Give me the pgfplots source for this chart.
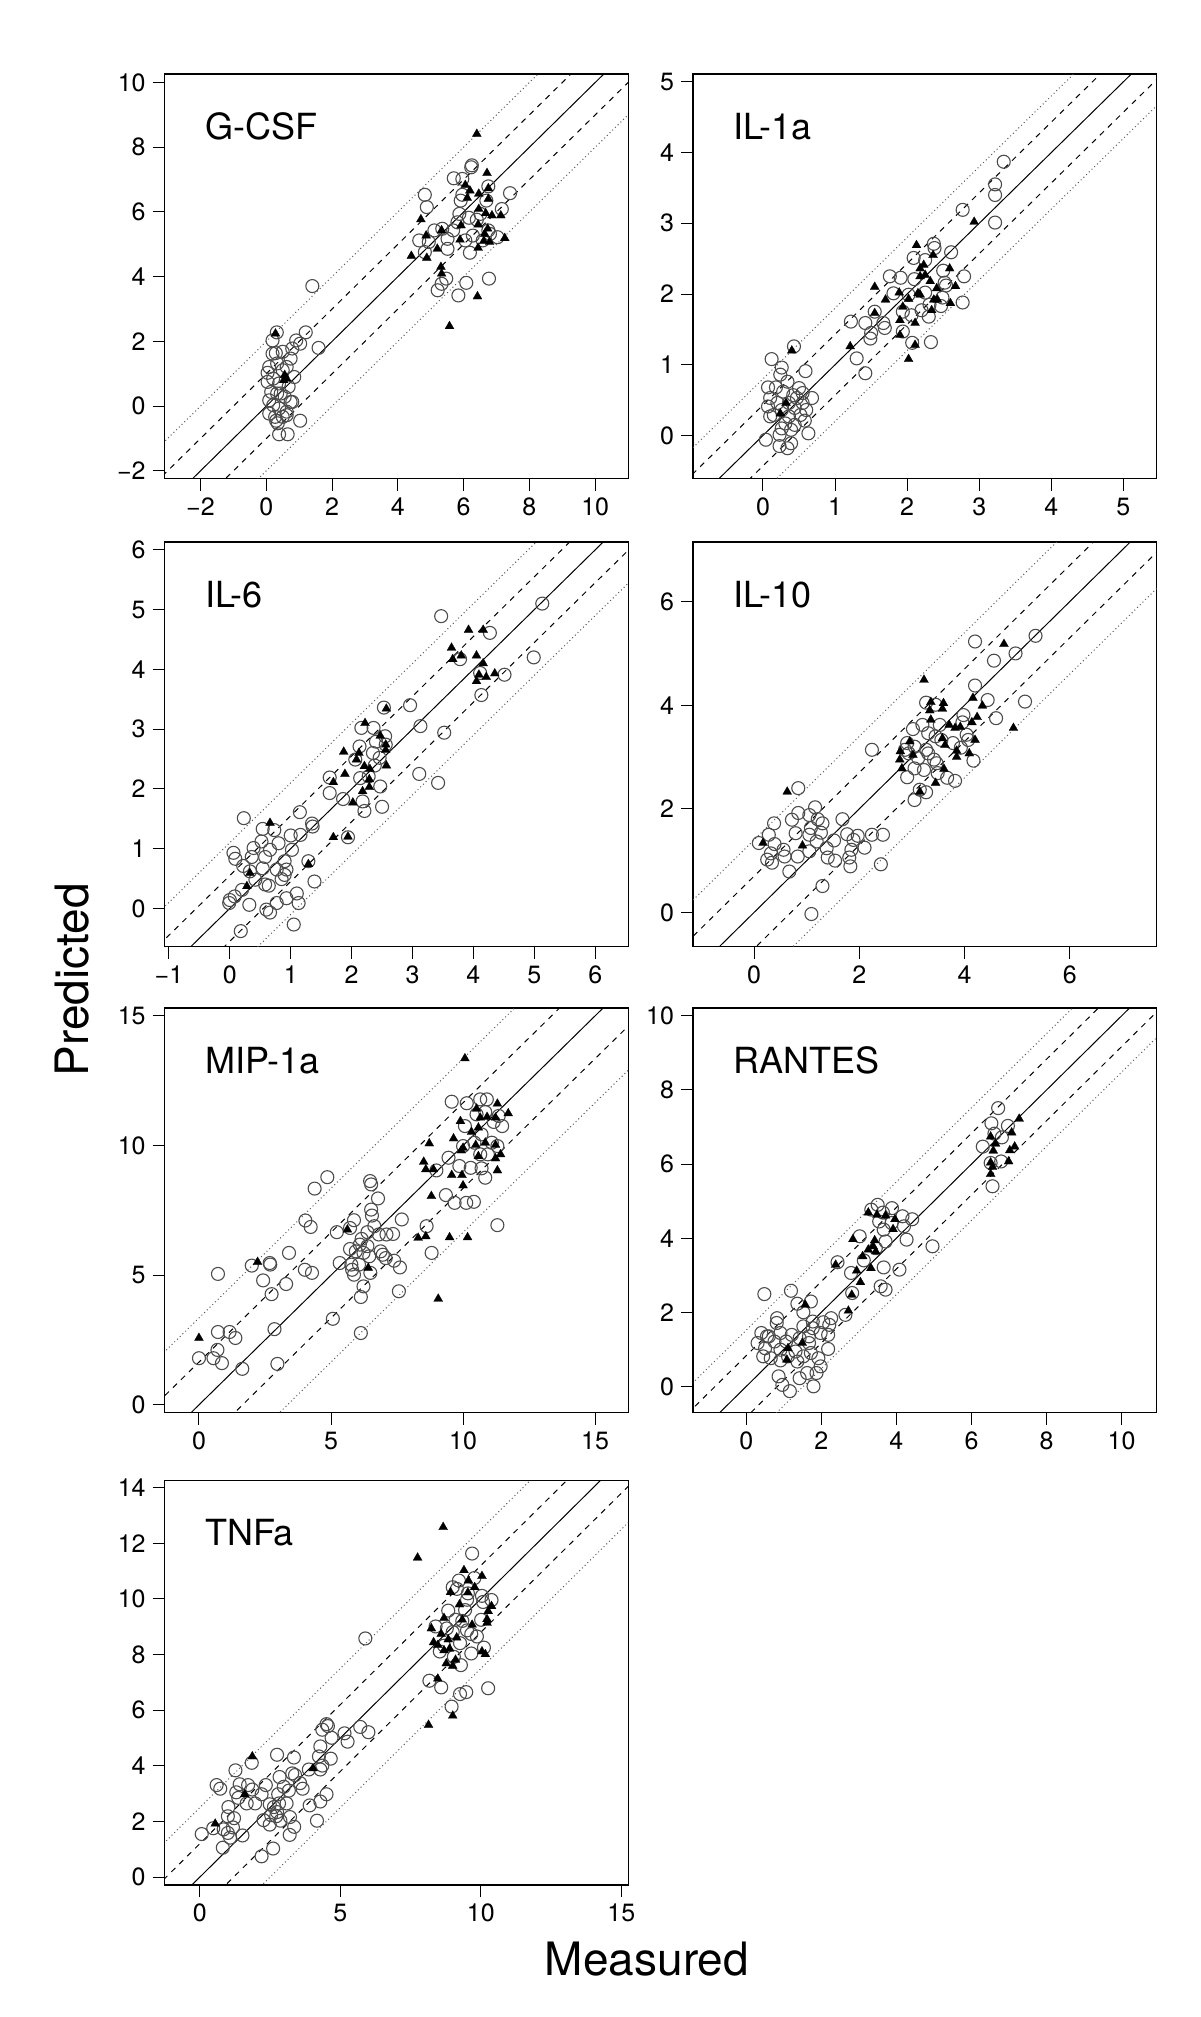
\documentclass[border=0pt]{standalone}
\usepackage{fontspec}
\setmainfont{TeX Gyre Heros}
\usepackage{pgfplots}
\pgfplotsset{compat=1.18}
\definecolor{dgray}{rgb}{0.3,0.3,0.3}
\pgfplotsset{
 panel/.style={scale only axis, width=231.75pt, height=202.3pt, anchor=south west,
   axis line style={line width=0.6pt}, tick align=outside, major tick length=6pt,
   xtick pos=left, ytick pos=left, tick style={black,line width=0.5pt},
   ticklabel style={font=\fontsize{12.5}{15}\selectfont},
   clip=true},
 circ/.style={only marks, mark=o, mark size=3.25pt, mark options={draw=dgray, line width=0.55pt}},
 tri/.style={only marks, mark=triangle*, mark size=2.6pt, mark options={fill=black, draw=black, line width=0.1pt}},
 idl/.style={black, line width=0.5pt, forget plot},
 dsh/.style={black, line width=0.5pt, dash pattern=on 2.8pt off 2.8pt, forget plot},
 dtt/.style={black!65, line width=0.5pt, dash pattern=on 0.5pt off 1.4pt, forget plot},
}
\newcommand{\plabel}[1]{\node[anchor=base west, font=\fontsize{18}{20}\selectfont, xshift=16.7pt, yshift=-32.7pt] at (rel axis cs:0,1) {#1};}
\begin{document}
\begin{tikzpicture}
\useasboundingbox (0,0) rectangle (600pt,1008.5pt);
% ---------------- G-CSF
\begin{axis}[panel, at={(82.3pt,769.15pt)}, xmin=-3.09, xmax=11.0, ymin=-2.24, ymax=10.26,
  xtick={-2,0,2,4,6,8,10}, xticklabels={−2,0,2,4,6,8,10},
  ytick={-2,0,2,4,6,8,10}, yticklabels={−2,0,2,4,6,8,10}]
\addplot[idl] coordinates {(-50,-50) (50,50)};
\addplot[dsh] coordinates {(-50,-49) (50,51)};
\addplot[dsh] coordinates {(-50,-51) (50,49)};
\addplot[dtt] coordinates {(-50,-48) (50,52)};
\addplot[dtt] coordinates {(-50,-52) (50,48)};
\addplot[circ] table[row sep=\\] {x y\\
4.82 6.53\\ 4.88 6.15\\ 5.70 7.04\\ 5.96 7.02\\ 6.25 7.44\\ 6.23 7.38\\ 5.96 6.53\\ 6.75 6.79\\ 7.41 6.58\\ 7.16 6.09\\
5.87 5.94\\ 6.16 5.82\\ 6.40 5.76\\ 5.81 5.68\\ 5.11 5.43\\ 5.35 5.48\\ 4.65 5.12\\ 4.94 5.07\\ 5.51 5.17\\ 6.05 5.12\\
6.28 5.27\\ 6.80 5.32\\ 7.03 5.22\\ 4.82 4.76\\ 5.51 4.86\\ 6.19 4.74\\ 5.47 3.94\\ 5.33 3.78\\ 5.21 3.58\\ 5.84 3.42\\
6.08 3.81\\ 6.77 3.94\\ 6.69 6.35\\ 6.51 5.94\\ 6.75 5.43\\ 6.58 5.12\\ 5.91 6.35\\ 5.68 5.43\\
1.40 3.71\\ 0.32 2.28\\ 0.19 2.03\\ 1.20 2.28\\ 0.91 2.03\\ 1.03 1.93\\ 1.59 1.80\\ 0.29 1.64\\ 0.50 1.68\\ 0.19 1.62\\
0.74 1.47\\ 0.79 1.78\\ 0.09 1.21\\ 0.33 1.32\\ 0.62 1.21\\ 0.85 0.90\\ 0.04 1.03\\ 0.04 0.75\\ 0.21 0.85\\ 0.39 0.70\\
0.68 0.60\\ 0.15 0.44\\ 0.33 0.39\\ 0.56 0.29\\ 0.74 0.13\\ 0.21 0.03\\ 0.39 -0.07\\ 0.62 -0.17\\ 0.27 -0.33\\ 0.50 -0.33\\
0.30 -0.45\\ 0.62 -0.28\\ 0.35 -0.53\\ 1.03 -0.45\\ 0.39 -0.87\\ 0.65 -0.87\\ 0.09 0.18\\ 0.50 1.11\\ 0.09 -0.23\\ 0.79 0.13\\ 0.44 0.39\\
};
\addplot[tri] table[row sep=\\] {x y\\
6.40 8.41\\ 6.71 7.20\\ 6.05 6.83\\ 6.19 6.66\\ 6.46 6.56\\ 6.75 6.73\\ 6.11 6.43\\ 6.75 6.40\\ 6.46 6.09\\ 6.67 5.96\\
6.86 5.89\\ 7.13 5.89\\ 4.70 5.77\\ 5.33 5.43\\ 5.92 5.58\\ 6.44 5.61\\ 6.73 5.48\\ 4.86 5.27\\ 6.64 5.32\\ 7.25 5.19\\
5.89 5.14\\ 6.61 5.10\\ 6.79 5.07\\ 5.20 4.86\\ 6.44 4.89\\ 4.41 4.64\\ 4.88 4.58\\ 5.31 4.30\\ 5.33 4.09\\ 6.42 3.39\\
5.57 2.47\\ 0.28 2.24\\ 0.56 0.96\\ 0.62 0.85\\ 0.53 0.80\\
};
\plabel{G-CSF}
\end{axis}
% ---------------- IL-1a
\begin{axis}[panel, at={(346.5pt,769.15pt)}, xmin=-0.97, xmax=5.46, ymin=-0.61, ymax=5.11,
  xtick={0,1,2,3,4,5}, ytick={0,1,2,3,4,5},
  xticklabels={0,1,2,3,4,5}, yticklabels={0,1,2,3,4,5}]
\addplot[idl] coordinates {(-50,-50) (50,50)};
\addplot[dsh] coordinates {(-50,-49.57) (50,50.43)};
\addplot[dsh] coordinates {(-50,-50.43) (50,49.57)};
\addplot[dtt] coordinates {(-50,-49.2) (50,50.8)};
\addplot[dtt] coordinates {(-50,-50.8) (50,49.2)};
\addplot[circ] table[row sep=\\] {x y\\
3.34 3.87\\ 3.22 3.55\\ 3.22 3.40\\ 3.22 3.01\\ 2.77 3.19\\ 2.37 2.71\\ 2.38 2.65\\ 2.61 2.59\\ 2.09 2.51\\ 2.25 2.48\\
2.50 2.33\\ 2.79 2.25\\ 1.76 2.25\\ 1.91 2.23\\ 2.10 2.21\\ 2.52 2.16\\ 2.54 2.12\\ 1.81 2.01\\ 2.02 1.99\\ 2.25 2.02\\
2.49 1.95\\ 2.77 1.88\\ 2.31 1.85\\ 1.94 1.75\\ 2.06 1.70\\ 2.20 1.77\\ 2.47 1.83\\ 2.30 1.68\\ 1.55 1.75\\ 1.67 1.59\\
1.69 1.52\\ 1.42 1.59\\ 1.50 1.45\\ 1.49 1.37\\ 1.94 1.47\\ 1.22 1.61\\ 2.07 1.31\\ 2.33 1.32\\ 1.30 1.09\\ 1.42 0.88\\
0.12 1.08\\ 0.43 1.26\\ 0.59 0.91\\ 0.26 0.96\\ 0.24 0.86\\ 0.34 0.76\\ 0.07 0.68\\ 0.18 0.68\\ 0.50 0.67\\ 0.28 0.62\\
0.42 0.57\\ 0.55 0.60\\ 0.68 0.53\\ 0.10 0.53\\ 0.20 0.46\\ 0.36 0.46\\ 0.55 0.46\\ 0.07 0.41\\ 0.26 0.36\\ 0.44 0.39\\
0.60 0.36\\ 0.15 0.29\\ 0.36 0.27\\ 0.52 0.29\\ 0.58 0.21\\ 0.31 0.17\\ 0.44 0.15\\ 0.26 0.10\\ 0.39 0.08\\ 0.63 0.03\\
0.04 -0.06\\ 0.23 0.01\\ 0.23 -0.15\\ 0.34 -0.18\\ 0.39 -0.11\\ 0.10 0.27\\ 0.47 0.53\\
};
\addplot[tri] table[row sep=\\] {x y\\
2.93 3.02\\ 2.13 2.69\\ 2.36 2.55\\ 2.23 2.41\\ 2.18 2.36\\ 2.59 2.36\\ 2.18 2.25\\ 2.25 2.27\\ 2.32 2.18\\ 1.55 2.10\\
1.89 2.02\\ 2.67 2.11\\ 2.41 2.08\\ 2.15 2.01\\ 1.70 1.92\\ 2.02 1.93\\ 2.18 1.99\\ 2.37 1.92\\ 2.42 1.92\\ 2.60 1.87\\
1.94 1.82\\ 2.34 1.77\\ 1.55 1.73\\ 1.90 1.63\\ 2.11 1.59\\ 1.90 1.42\\ 2.11 1.28\\ 1.21 1.26\\ 2.02 1.08\\ 0.40 1.20\\
0.32 0.46\\ 0.24 0.31\\
};
\plabel{IL-1a}
\end{axis}
% ---------------- IL-6
\begin{axis}[panel, at={(82.3pt,535.15pt)}, xmin=-1.07, xmax=6.54, ymin=-0.64, ymax=6.13,
  xtick={-1,0,1,2,3,4,5,6}, xticklabels={−1,0,1,2,3,4,5,6},
  ytick={0,1,2,3,4,5,6}, yticklabels={0,1,2,3,4,5,6}]
\addplot[idl] coordinates {(-50,-50) (50,50)};
\addplot[dsh] coordinates {(-50,-49.45) (50,50.55)};
\addplot[dsh] coordinates {(-50,-50.55) (50,49.45)};
\addplot[dtt] coordinates {(-50,-48.9) (50,51.1)};
\addplot[dtt] coordinates {(-50,-51.1) (50,48.9)};
\addplot[circ] table[row sep=\\] {x y\\
3.47 4.89\\ 5.13 5.10\\ 4.27 4.61\\ 4.99 4.20\\ 3.78 4.17\\ 4.51 3.91\\ 4.11 3.94\\ 4.13 3.57\\ 2.53 3.36\\ 2.96 3.40\\
3.13 3.05\\ 2.16 3.02\\ 2.36 3.02\\ 3.52 2.94\\ 2.55 2.88\\ 2.40 2.79\\ 2.13 2.71\\ 2.56 2.74\\ 2.35 2.60\\ 2.46 2.52\\
2.06 2.49\\ 2.38 2.39\\ 3.11 2.25\\ 1.64 2.19\\ 2.14 2.18\\ 2.28 2.21\\ 3.42 2.10\\ 2.47 2.04\\ 1.64 1.93\\ 1.86 1.83\\
2.18 1.79\\ 2.50 1.70\\ 2.21 1.63\\ 0.23 1.51\\ 1.15 1.61\\ 0.54 1.33\\ 0.73 1.31\\ 1.35 1.42\\ 1.36 1.37\\ 1.16 1.23\\
1.00 1.22\\ 0.80 1.09\\ 0.52 1.12\\ 0.66 0.98\\ 0.39 1.01\\ 1.02 0.98\\ 0.06 0.93\\ 0.09 0.83\\ 0.36 0.86\\ 0.58 0.86\\
0.90 0.79\\ 0.22 0.71\\ 0.54 0.67\\ 0.77 0.65\\ 0.93 0.65\\ 0.33 0.62\\ 0.90 0.56\\ 1.29 0.79\\ 0.85 0.49\\ 0.42 0.48\\
0.58 0.40\\ 0.64 0.38\\ 1.39 0.45\\ 0.20 0.31\\ 0.00 0.14\\ 0.08 0.20\\ -0.01 0.09\\ 0.32 0.06\\ 0.77 0.09\\ 0.93 0.17\\
1.10 0.25\\ 1.13 0.09\\ 0.60 -0.02\\ 0.66 -0.07\\ 0.18 -0.38\\ 1.05 -0.27\\ 1.94 1.19\\
};
\addplot[tri] table[row sep=\\] {x y\\
3.92 4.66\\ 4.16 4.66\\ 3.64 4.36\\ 3.66 4.17\\ 3.80 4.23\\ 4.05 4.23\\ 4.16 4.10\\ 4.09 3.91\\ 4.05 3.80\\ 4.21 3.87\\
4.35 3.93\\ 2.57 3.34\\ 2.22 3.10\\ 2.47 2.89\\ 2.56 2.74\\ 2.56 2.65\\ 1.87 2.62\\ 2.12 2.60\\ 2.08 2.49\\ 2.21 2.38\\
2.30 2.33\\ 2.57 2.39\\ 1.89 2.25\\ 1.70 2.11\\ 2.29 2.16\\ 2.29 2.03\\ 2.18 1.96\\ 2.02 1.77\\ 0.66 1.43\\ 1.70 1.19\\
1.94 1.20\\ 1.29 0.74\\ 0.33 0.59\\ 0.28 0.37\\
};
\plabel{IL-6}
\end{axis}
% ---------------- IL-10
\begin{axis}[panel, at={(346.5pt,535.15pt)}, xmin=-1.16, xmax=7.65, ymin=-0.66, ymax=7.15,
  xtick={0,2,4,6}, ytick={0,2,4,6}, xticklabels={0,2,4,6}, yticklabels={0,2,4,6}]
\addplot[idl] coordinates {(-50,-50) (50,50)};
\addplot[dsh] coordinates {(-50,-49.3) (50,50.7)};
\addplot[dsh] coordinates {(-50,-50.7) (50,49.3)};
\addplot[dtt] coordinates {(-50,-48.6) (50,51.4)};
\addplot[dtt] coordinates {(-50,-51.4) (50,48.6)};
\addplot[circ] table[row sep=\\] {x y\\
5.35 5.34\\ 4.20 5.23\\ 4.97 5.00\\ 4.56 4.86\\ 4.20 4.38\\ 4.44 4.10\\ 5.15 4.07\\ 3.27 4.05\\ 3.45 4.01\\ 4.60 3.75\\
3.98 3.81\\ 3.02 3.54\\ 3.20 3.62\\ 3.53 3.62\\ 3.96 3.67\\ 3.31 3.46\\ 3.45 3.40\\ 4.04 3.43\\ 3.56 3.33\\ 3.78 3.27\\
4.07 3.33\\ 2.91 3.27\\ 3.05 3.20\\ 3.27 3.14\\ 2.87 3.14\\ 2.94 3.07\\ 3.93 3.18\\ 3.31 3.07\\ 3.12 2.98\\ 3.42 2.95\\
3.05 2.78\\ 3.23 2.75\\ 3.47 2.88\\ 4.17 2.93\\ 2.91 2.61\\ 3.49 2.69\\ 3.67 2.60\\ 3.82 2.54\\ 3.15 2.37\\ 3.27 2.32\\
3.05 2.17\\ 2.24 3.14\\ 0.84 2.40\\ 1.16 2.03\\ 0.84 1.92\\ 0.72 1.79\\ 0.38 1.72\\ 1.05 1.88\\ 1.21 1.80\\ 1.30 1.72\\
1.68 1.80\\ 0.79 1.53\\ 0.28 1.50\\ 1.08 1.63\\ 1.27 1.54\\ 1.77 1.51\\ 1.97 1.48\\ 2.24 1.50\\ 2.45 1.50\\ 0.09 1.34\\
0.39 1.32\\ 1.19 1.37\\ 1.52 1.39\\ 1.89 1.40\\ 0.56 1.21\\ 1.38 1.24\\ 1.85 1.21\\ 2.10 1.25\\ 1.05 1.18\\ 0.32 1.14\\
0.58 1.08\\ 0.83 1.08\\ 1.40 1.06\\ 1.54 1.00\\ 1.81 1.06\\ 0.25 1.02\\ 0.34 0.96\\ 1.83 0.89\\ 2.41 0.93\\ 0.67 0.79\\
1.30 0.51\\ 1.09 -0.03\\ 1.05 1.50\\
};
\addplot[tri] table[row sep=\\] {x y\\
4.75 5.18\\ 3.23 4.49\\ 4.16 4.14\\ 3.36 4.06\\ 3.60 4.04\\ 4.34 3.99\\ 3.34 3.90\\ 3.58 3.93\\ 4.24 3.77\\ 3.36 3.72\\
4.14 3.67\\ 3.71 3.62\\ 3.82 3.56\\ 3.92 3.58\\ 4.93 3.56\\ 3.58 3.36\\ 4.20 3.33\\ 2.96 3.30\\ 3.63 3.23\\ 2.78 3.11\\
3.85 3.12\\ 3.02 3.04\\ 4.09 3.07\\ 2.77 2.95\\ 3.85 3.00\\ 2.81 2.78\\ 3.61 2.77\\ 3.45 2.50\\ 3.15 2.33\\ 0.63 2.33\\
0.17 1.34\\ 0.92 1.29\\
};
\plabel{IL-10}
\end{axis}
% ---------------- MIP-1a
\begin{axis}[panel, at={(82.3pt,302.15pt)}, xmin=-1.30, xmax=16.25, ymin=-0.30, ymax=15.30,
  xtick={0,5,10,15}, ytick={0,5,10,15}, xticklabels={0,5,10,15}, yticklabels={0,5,10,15}]
\addplot[idl] coordinates {(-50,-50) (50,50)};
\addplot[dsh] coordinates {(-50,-48.35) (50,51.65)};
\addplot[dsh] coordinates {(-50,-51.65) (50,48.35)};
\addplot[dtt] coordinates {(-50,-46.65) (50,53.35)};
\addplot[dtt] coordinates {(-50,-53.35) (50,46.65)};
\addplot[circ] table[row sep=\\] {x y\\
9.57 11.69\\ 10.14 11.63\\ 10.65 11.78\\ 10.90 11.78\\ 10.51 11.20\\ 10.84 11.29\\ 11.35 11.14\\ 10.07 10.75\\ 11.16 10.91\\ 11.48 10.75\\
10.70 10.43\\ 11.09 10.11\\ 10.43 10.11\\ 11.30 9.98\\ 10.00 9.98\\ 9.45 9.53\\ 10.65 9.66\\ 10.94 9.66\\ 9.86 9.21\\ 10.29 9.14\\
10.70 9.12\\ 8.99 9.04\\ 10.84 8.76\\ 9.35 8.09\\ 9.68 7.79\\ 10.12 7.79\\ 10.41 7.83\\ 11.30 6.93\\ 8.62 6.89\\ 8.81 5.86\\
4.86 8.78\\ 4.38 8.34\\ 6.48 8.63\\ 6.52 8.50\\ 6.78 7.96\\ 6.52 7.53\\ 6.55 7.30\\ 4.03 7.11\\ 4.23 6.86\\ 7.68 7.15\\
5.87 7.12\\ 5.72 6.82\\ 5.22 6.66\\ 6.38 6.66\\ 6.64 6.89\\ 6.81 6.57\\ 7.10 6.57\\ 7.35 6.59\\ 6.16 6.40\\ 6.09 6.18\\
6.38 6.12\\ 5.72 6.01\\ 5.94 5.92\\ 6.23 5.86\\ 6.88 5.92\\ 6.96 5.79\\ 7.07 5.66\\ 7.39 5.56\\ 6.45 5.73\\ 5.33 5.47\\
5.77 5.41\\ 6.06 5.41\\ 5.80 5.21\\ 5.87 5.02\\ 6.49 5.09\\ 7.61 5.30\\ 3.41 5.86\\ 4.01 5.21\\ 4.28 5.09\\ 2.00 5.37\\
2.68 5.47\\ 2.70 5.41\\ 0.72 5.05\\ 2.43 4.80\\ 3.30 4.66\\ 2.75 4.27\\ 6.23 4.57\\ 6.13 4.16\\ 7.57 4.38\\ 5.07 3.32\\
2.86 2.92\\ 6.13 2.77\\ 0.72 2.81\\ 1.16 2.81\\ 1.38 2.58\\ 0.70 2.12\\ 0.00 1.80\\ 0.55 1.80\\ 0.87 1.61\\ 1.64 1.39\\ 2.97 1.58\\
};
\addplot[tri] table[row sep=\\] {x y\\
10.07 13.36\\ 11.30 11.61\\ 10.51 11.42\\ 11.71 11.24\\ 10.65 11.07\\ 10.91 11.10\\ 11.23 11.07\\ 9.90 10.94\\ 10.58 10.69\\ 10.32 10.52\\
9.64 10.27\\ 8.72 10.08\\ 10.84 10.11\\ 10.48 10.02\\ 10.00 9.91\\ 11.23 10.02\\ 9.93 9.81\\ 10.58 9.59\\ 11.42 9.66\\ 11.23 9.50\\
8.51 9.37\\ 8.59 9.08\\ 8.88 9.08\\ 11.30 9.04\\ 9.57 8.86\\ 9.96 8.86\\ 10.00 8.46\\ 8.80 8.05\\ 9.49 6.46\\ 10.17 6.46\\
8.30 6.44\\ 8.59 6.50\\ 5.62 6.76\\ 6.41 5.28\\ 2.22 5.51\\ 0.00 2.58\\ 9.06 4.09\\
};
\plabel{MIP-1a}
\end{axis}
% ---------------- RANTES
\begin{axis}[panel, at={(346.5pt,302.15pt)}, xmin=-1.42, xmax=10.93, ymin=-0.71, ymax=10.21,
  xtick={0,2,4,6,8,10}, ytick={0,2,4,6,8,10}, xticklabels={0,2,4,6,8,10}, yticklabels={0,2,4,6,8,10}]
\addplot[idl] coordinates {(-50,-50) (50,50)};
\addplot[dsh] coordinates {(-50,-49.17) (50,50.83)};
\addplot[dsh] coordinates {(-50,-50.83) (50,49.17)};
\addplot[dtt] coordinates {(-50,-48.48) (50,51.52)};
\addplot[dtt] coordinates {(-50,-51.52) (50,48.48)};
\addplot[circ] table[row sep=\\] {x y\\
6.71 7.51\\ 6.53 7.10\\ 6.97 7.03\\ 6.61 6.82\\ 6.81 6.72\\ 6.30 6.47\\ 6.51 6.03\\ 6.79 6.07\\ 6.56 5.40\\ 3.50 4.90\\
3.88 4.81\\ 3.33 4.77\\ 3.64 4.69\\ 4.16 4.59\\ 4.42 4.51\\ 3.54 4.45\\ 3.87 4.41\\ 4.20 4.32\\ 3.66 4.23\\ 3.02 4.05\\
4.27 3.96\\ 3.71 3.91\\ 3.45 3.73\\ 4.96 3.78\\ 3.13 3.40\\ 2.43 3.35\\ 3.66 3.21\\ 4.08 3.15\\ 2.79 3.06\\ 3.58 2.70\\
3.71 2.61\\ 2.82 2.52\\ 0.48 2.49\\ 1.19 2.58\\ 1.36 2.23\\ 1.72 2.29\\ 1.52 2.00\\ 0.82 1.84\\ 2.26 1.84\\ 2.05 1.73\\
1.77 1.75\\ 0.81 1.71\\ 1.52 1.62\\ 1.77 1.57\\ 2.21 1.66\\ 0.40 1.44\\ 0.60 1.35\\ 0.91 1.44\\ 1.21 1.39\\ 1.42 1.30\\
1.67 1.35\\ 1.98 1.44\\ 2.18 1.39\\ 0.30 1.17\\ 0.75 1.21\\ 1.06 1.21\\ 1.67 1.17\\ 0.50 1.03\\ 0.91 0.99\\ 1.31 0.94\\
2.18 1.01\\ 0.45 0.81\\ 0.65 0.76\\ 1.11 0.81\\ 1.52 0.81\\ 1.72 0.90\\ 0.91 0.70\\ 1.36 0.67\\ 1.92 0.76\\ 1.98 0.54\\
1.62 0.36\\ 1.87 0.36\\ 0.86 0.27\\ 1.42 0.22\\ 0.96 0.04\\ 1.79 0.00\\ 1.16 -0.13\\ 0.55 1.35\\ 2.64 1.93\\
};
\addplot[tri] table[row sep=\\] {x y\\
7.27 7.22\\ 6.51 6.74\\ 7.07 6.85\\ 6.64 6.55\\ 6.58 6.36\\ 7.02 6.37\\ 7.15 6.47\\ 6.51 6.04\\ 6.99 6.07\\ 6.56 5.92\\
6.51 5.73\\ 3.25 4.69\\ 3.48 4.63\\ 3.71 4.61\\ 3.96 4.51\\ 3.91 4.24\\ 2.84 3.97\\ 3.42 3.94\\ 3.38 3.78\\ 3.25 3.69\\
3.45 3.64\\ 3.10 3.51\\ 2.38 3.28\\ 3.32 3.19\\ 2.94 3.12\\ 3.04 2.81\\ 2.81 2.47\\ 2.72 2.04\\ 1.57 2.20\\ 1.49 1.17\\
1.11 1.03\\ 1.08 0.72\\
};
\plabel{RANTES}
\end{axis}
% ---------------- TNFa
\begin{axis}[panel, at={(82.3pt,66.0pt)}, xmin=-1.25, xmax=15.24, ymin=-0.28, ymax=14.26,
  xtick={0,5,10,15}, ytick={0,2,4,6,8,10,12,14}, xticklabels={0,5,10,15}, yticklabels={0,2,4,6,8,10,12,14}]
\addplot[idl] coordinates {(-50,-50) (50,50)};
\addplot[dsh] coordinates {(-50,-48.8) (50,51.2)};
\addplot[dsh] coordinates {(-50,-51.2) (50,48.8)};
\addplot[dtt] coordinates {(-50,-47.5) (50,52.5)};
\addplot[dtt] coordinates {(-50,-52.5) (50,47.5)};
\addplot[circ] table[row sep=\\] {x y\\
9.69 11.63\\ 9.22 10.66\\ 9.00 10.42\\ 9.15 10.36\\ 9.77 10.75\\ 9.54 10.20\\ 10.04 10.11\\ 10.38 9.96\\ 9.51 9.97\\ 10.08 9.89\\
9.44 9.60\\ 8.84 9.58\\ 9.10 9.25\\ 9.34 9.21\\ 10.01 9.25\\ 8.39 9.01\\ 8.79 8.94\\ 9.51 8.87\\ 9.00 8.81\\ 9.66 8.74\\
9.86 8.65\\ 9.26 8.41\\ 8.69 8.32\\ 8.54 8.11\\ 10.11 8.25\\ 9.66 8.04\\ 9.04 7.92\\ 9.29 7.62\\ 8.17 7.06\\ 8.59 6.82\\
10.26 6.79\\ 9.26 6.58\\ 9.48 6.65\\ 8.96 6.13\\ 5.89 8.58\\ 5.71 5.40\\ 6.00 5.21\\ 5.15 5.17\\ 5.26 4.87\\ 4.51 5.50\\
4.56 5.43\\ 4.36 5.30\\ 4.69 5.01\\ 4.29 4.70\\ 4.66 4.26\\ 4.24 4.34\\ 4.36 4.01\\ 4.29 3.87\\ 3.88 3.87\\ 4.51 2.98\\
4.29 2.72\\ 4.17 2.03\\ 3.91 2.58\\ 3.35 4.30\\ 2.75 4.40\\ 1.85 4.11\\ 1.27 3.84\\ 3.29 3.73\\ 3.39 3.67\\ 2.84 3.60\\
2.35 3.31\\ 0.60 3.31\\ 0.73 3.18\\ 1.42 3.34\\ 1.72 3.31\\ 3.57 3.38\\ 3.66 3.18\\ 2.99 3.25\\ 3.17 3.11\\ 1.87 3.15\\
2.20 2.98\\ 1.30 3.05\\ 1.37 2.85\\ 1.67 2.65\\ 1.97 2.65\\ 2.79 2.98\\ 2.49 2.62\\ 2.82 2.65\\ 3.09 2.65\\ 2.64 2.52\\
2.75 2.34\\ 2.54 2.23\\ 2.72 2.19\\ 3.21 2.16\\ 1.02 2.52\\ 1.00 2.19\\ 1.22 2.12\\ 2.27 2.05\\ 2.87 2.03\\ 3.36 1.81\\
2.49 1.89\\ 1.18 1.79\\ 0.85 1.72\\ 0.48 1.76\\ 1.00 1.59\\ 0.07 1.55\\ 1.08 1.42\\ 1.52 1.50\\ 3.20 1.52\\ 0.82 1.06\\
2.61 1.03\\ 2.20 0.75\\
};
\addplot[tri] table[row sep=\\] {x y\\
8.66 12.58\\ 7.75 11.48\\ 9.40 11.03\\ 10.04 10.82\\ 9.56 10.66\\ 9.78 10.42\\ 8.92 10.24\\ 9.54 10.23\\ 9.24 9.80\\ 10.38 9.74\\
10.26 9.56\\ 8.69 9.31\\ 9.34 9.25\\ 9.69 9.07\\ 10.22 9.27\\ 10.22 9.14\\ 8.24 8.94\\ 8.59 8.74\\ 9.14 8.61\\ 8.32 8.44\\
8.84 8.54\\ 8.47 8.34\\ 8.69 8.15\\ 8.89 8.21\\ 10.04 8.11\\ 10.16 8.01\\ 9.10 7.81\\ 8.77 7.68\\ 9.00 7.59\\ 8.47 7.13\\
9.00 5.80\\ 8.14 5.47\\ 1.87 4.34\\ 4.03 3.91\\ 1.60 2.98\\ 0.55 1.92\\
};
\plabel{TNFa}
\end{axis}
\node[rotate=90, anchor=base, font=\fontsize{23}{26}\selectfont] at (44pt,518.5pt) {Predicted};
\node[anchor=base, font=\fontsize{23}{26}\selectfont] at (323.5pt,20.5pt) {Measured};
\end{tikzpicture}
\end{document}
